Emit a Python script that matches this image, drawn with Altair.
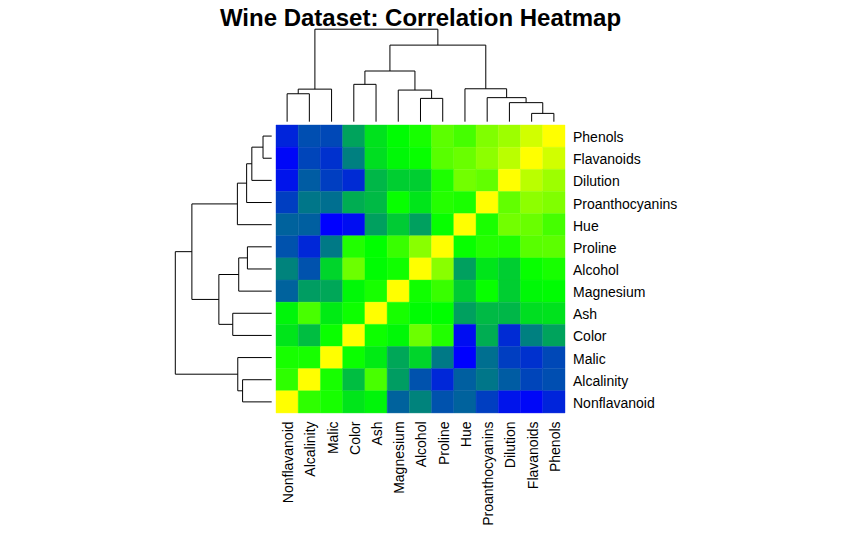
"""
Wine dataset correlation heatmap with row and column dendrograms.
"""

import altair as alt
import pandas as pd

# leaf order of the clustering (left to right on columns, bottom to top on rows)
leaf_order = [
    "Nonflavanoid", "Alcalinity", "Malic", "Color", "Ash", "Magnesium",
    "Alcohol", "Proline", "Hue", "Proanthocyanins", "Dilution",
    "Flavanoids", "Phenols",
]

# correlations, upper triangle, in the order of `variables`
variables = [
    "Alcohol", "Malic", "Ash", "Alcalinity", "Magnesium", "Phenols",
    "Flavanoids", "Nonflavanoid", "Proanthocyanins", "Color", "Hue",
    "Dilution", "Proline",
]
alcohol = [0.09, 0.21, -0.31, 0.27, 0.29, 0.24, -0.16, 0.14, 0.55, -0.07, 0.07, 0.64]
malic = [0.16, 0.29, -0.05, -0.34, -0.41, 0.29, -0.22, 0.25, -0.56, -0.37, -0.19]
ash = [0.44, 0.29, 0.13, 0.12, 0.19, 0.01, 0.26, -0.07, 0.00, 0.22]
alcalinity = [-0.08, -0.32, -0.35, 0.36, -0.20, 0.02, -0.27, -0.28, -0.44]
magnesium = [0.21, 0.20, -0.26, 0.24, 0.20, 0.06, 0.07, 0.39]
phenols = [0.86, -0.45, 0.61, -0.06, 0.43, 0.70, 0.50]
flavanoids = [-0.54, 0.65, -0.17, 0.54, 0.79, 0.49]
nonflavanoid = [-0.37, 0.14, -0.26, -0.50, -0.31]
proanthocyanins = [-0.03, 0.30, 0.52, 0.33]
color = [-0.52, -0.43, 0.32]
hue = [0.57, 0.24]
dilution = [0.31]
upper = [alcohol, malic, ash, alcalinity, magnesium, phenols, flavanoids,
         nonflavanoid, proanthocyanins, color, hue, dilution, []]

# hierarchical clustering merges: child a, child b (leaf name or merge index), height
merge_a = ["Flavanoids", "Dilution", "Alcohol", "Proanthocyanins", "Nonflavanoid",
           "Magnesium", "Malic", "Hue", "Color", 8, 9, 6]
merge_b = ["Phenols", 0, "Proline", 1, "Alcalinity", 2, 4, 3, "Ash", 5, 7, 10]
merge_height = [0.225, 0.515, 0.63, 0.65, 0.755, 0.855, 0.88, 0.89, 1.01, 1.37, 2.07, 2.5]

# ---- layout (pixels, relative to the chart origin) ----
W, H = 840, 520
HM_LEFT, HM_TOP = 268, 117
CELL_W, CELL_H = 22.23, 22.15
N = len(leaf_order)

corr = {}
for i, name in enumerate(variables):
    corr[(name, name)] = 1.0
    for j, v in enumerate(upper[i]):
        other = variables[i + 1 + j]
        corr[(name, other)] = v
        corr[(other, name)] = v

cells = []
for c, col_name in enumerate(leaf_order):
    for r, row_name in enumerate(reversed(leaf_order)):
        cells.append(dict(x=c, x2=c + 1, y=r, y2=r + 1,
                          row=row_name, col=col_name,
                          value=corr[(row_name, col_name)]))
heat_df = pd.DataFrame(cells)

lo, hi = heat_df["value"].min(), heat_df["value"].max()

x_scale = alt.Scale(domain=[-HM_LEFT / CELL_W, (W - HM_LEFT) / CELL_W],
                    zero=False, nice=False)
y_scale = alt.Scale(domain=[-HM_TOP / CELL_H, (H - HM_TOP) / CELL_H],
                    zero=False, nice=False, reverse=True)
color_scale = alt.Scale(domain=[lo, (lo + hi) / 2, hi],
                        range=["#0000FF", "#00FF00", "#FFFF00"],
                        interpolate="rgb")

heat = (
    alt.Chart(heat_df)
    .mark_rect(strokeWidth=0.4)
    .encode(
        x=alt.X("x:Q", scale=x_scale, axis=None),
        x2="x2:Q",
        y=alt.Y("y:Q", scale=y_scale, axis=None),
        y2="y2:Q",
        color=alt.Color("value:Q", scale=color_scale, legend=None),
        stroke=alt.Stroke("value:Q", scale=color_scale, legend=None),
        tooltip=["row", "col", alt.Tooltip("value:Q", format=".2f")],
    )
)

# dendrogram segments in (leaf position, height) space
pos = {name: i + 0.5 for i, name in enumerate(leaf_order)}
hts = {name: 0.0 for name in leaf_order}
segs = []
for i, (a, b, h) in enumerate(zip(merge_a, merge_b, merge_height)):
    for child in (a, b):
        segs.append(dict(p=pos[child], p2=pos[child], h0=hts[child], h1=h))
    segs.append(dict(p=pos[a], p2=pos[b], h0=h, h1=h))
    pos[i] = (pos[a] + pos[b]) / 2
    hts[i] = h
seg_df = pd.DataFrame(segs)

# top dendrogram: root kept just below the title
top_base = -3.3 / CELL_H
top_k = 92.5 / CELL_H / max(merge_height)
top_df = pd.DataFrame({
    "x": seg_df["p"], "x2": seg_df["p2"],
    "y": top_base - seg_df["h0"] * top_k, "y2": top_base - seg_df["h1"] * top_k,
})

left_base = -4.3 / CELL_W
left_k = 96.4 / CELL_W / max(merge_height)
left_df = pd.DataFrame({
    "x": left_base - seg_df["h0"] * left_k, "x2": left_base - seg_df["h1"] * left_k,
    "y": N - seg_df["p"], "y2": N - seg_df["p2"],
})


def dendro(df):
    return (
        alt.Chart(df)
        .mark_rule(color="black", strokeWidth=1)
        .encode(
            x=alt.X("x:Q", scale=x_scale, axis=None),
            x2="x2:Q",
            y=alt.Y("y:Q", scale=y_scale, axis=None),
            y2="y2:Q",
        )
    )


row_df = pd.DataFrame({"label": list(reversed(leaf_order)),
                       "y": [r + 0.5 + 2 / CELL_H for r in range(N)],
                       "x": N + 8 / CELL_W})
row_labels = (
    alt.Chart(row_df)
    .mark_text(align="left", baseline="middle", fontSize=14,
               font="Liberation Sans", color="black")
    .encode(x=alt.X("x:Q", scale=x_scale, axis=None),
            y=alt.Y("y:Q", scale=y_scale, axis=None),
            text="label")
)

col_df = pd.DataFrame({"label": leaf_order,
                       "x": [c + 0.5 + 2 / CELL_W for c in range(N)],
                       "y": N + 8.5 / CELL_H})
col_labels = (
    alt.Chart(col_df)
    .mark_text(align="right", baseline="middle", angle=270, fontSize=14,
               font="Liberation Sans", color="black")
    .encode(x=alt.X("x:Q", scale=x_scale, axis=None),
            y=alt.Y("y:Q", scale=y_scale, axis=None),
            text="label")
)

title_df = pd.DataFrame({"label": ["Wine Dataset: Correlation Heatmap"],
                         "x": [N / 2], "y": [-(HM_TOP - 18) / CELL_H]})
title = (
    alt.Chart(title_df)
    .mark_text(align="center", baseline="alphabetic", fontSize=24,
               fontWeight="bold", font="Liberation Sans", color="black")
    .encode(x=alt.X("x:Q", scale=x_scale, axis=None),
            y=alt.Y("y:Q", scale=y_scale, axis=None),
            text="label")
)

chart = (
    alt.layer(heat, dendro(top_df), dendro(left_df), row_labels, col_labels, title)
    .properties(width=W, height=H, padding=0,
                autosize=alt.AutoSizeParams(type="none"))
    .configure_view(stroke=None)
)

chart.save("out.html", embed_options={"renderer": "svg", "actions": False})
